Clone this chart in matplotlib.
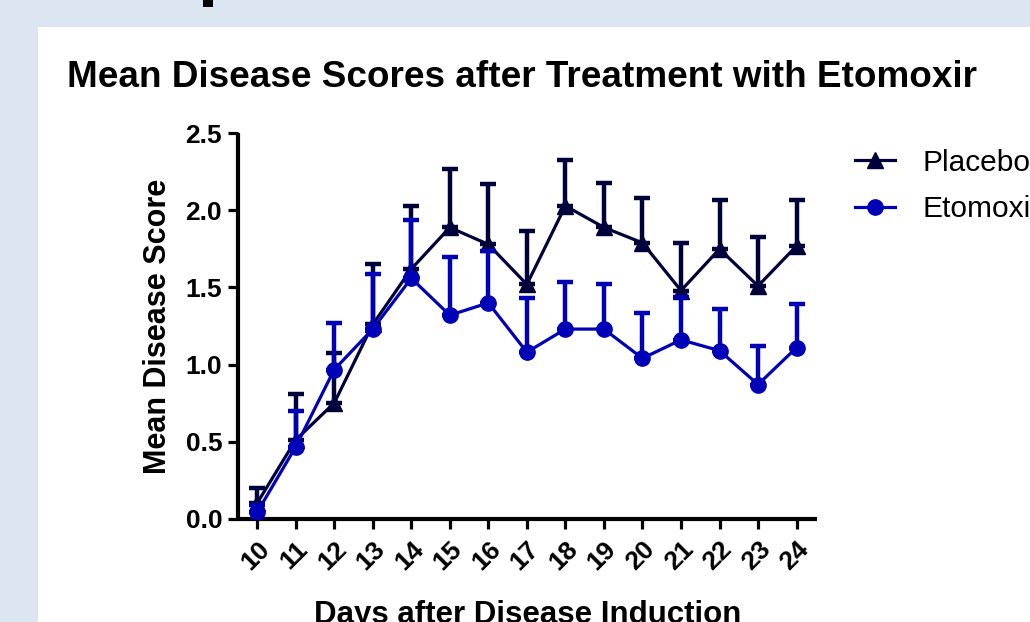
import matplotlib
matplotlib.use("Agg")
import matplotlib.pyplot as plt
from matplotlib.lines import Line2D
from matplotlib.patches import Rectangle
import numpy as np

days = np.arange(10, 25)
day_labels = [str(d) for d in days]

placebo_mean = [0.10, 0.51, 0.75, 1.26, 1.62, 1.89, 1.78, 1.52, 2.03, 1.89, 1.79, 1.48, 1.75, 1.51, 1.77]
placebo_sem = [0.095, 0.30, 0.325, 0.39, 0.41, 0.38, 0.39, 0.345, 0.30, 0.29, 0.29, 0.31, 0.32, 0.315, 0.30]

etomoxir_mean = [0.04, 0.465, 0.967, 1.23, 1.56, 1.32, 1.40, 1.08, 1.23, 1.23, 1.04, 1.16, 1.09, 0.87, 1.11]
etomoxir_sem = [0.045, 0.235, 0.30, 0.355, 0.38, 0.38, 0.335, 0.35, 0.306, 0.29, 0.295, 0.28, 0.27, 0.25, 0.28]

y_ticks = [0.0, 0.5, 1.0, 1.5, 2.0, 2.5]

dark = "#00003a"
blue = "#0000b8"

plt.rcParams["font.family"] = ["Liberation Sans", "DejaVu Sans"]

fig = plt.figure(figsize=(10.30, 6.22), dpi=100)
fig.patch.set_facecolor("#dce6f2")

# white slide panel + bit of the cut-off slide title
fig.patches.append(Rectangle((38 / 1030, 0), 1, 1 - 27 / 622, transform=fig.transFigure,
                             facecolor="white", edgecolor="none", zorder=-10))
fig.patches.append(Rectangle((203 / 1030, 1 - 7 / 622), 10 / 1030, 7 / 622, transform=fig.transFigure,
                             facecolor="black", edgecolor="none", zorder=-10))

ax = fig.add_axes([237.5 / 1030, (622 - 518.5) / 622, (817 - 237.5) / 1030, (518.5 - 133.5) / 622])
ax.set_facecolor("none")

# placebo
ax.errorbar(days, placebo_mean, yerr=[np.zeros(len(days)), placebo_sem], fmt="none",
            ecolor=dark, elinewidth=3.2, capsize=5.5, capthick=3.2, zorder=2)
ax.plot(days, placebo_mean, color=dark, lw=2.3, marker="^", ms=11.5, zorder=3)

# etomoxir
ax.errorbar(days, etomoxir_mean, yerr=[np.zeros(len(days)), etomoxir_sem], fmt="none",
            ecolor=blue, elinewidth=3.2, capsize=5.5, capthick=3.2, zorder=4)
ax.plot(days, etomoxir_mean, color=blue, lw=2.3, marker="o", ms=11, zorder=5)

ax.set_xlim(9.49, 24.53)
ax.set_ylim(0, 2.5)
ax.set_xticks(days)
ax.set_xticklabels(day_labels, rotation=45, ha="right", va="top", rotation_mode="anchor",
                   fontsize=19, fontweight="bold")
ax.set_yticks(y_ticks)
ax.set_yticklabels([f"{v:.1f}" for v in y_ticks], fontsize=19, fontweight="bold")

for side in ["top", "right"]:
    ax.spines[side].set_visible(False)
for side in ["left", "bottom"]:
    ax.spines[side].set_linewidth(3)
    ax.spines[side].set_capstyle("butt")
ax.tick_params(axis="both", direction="out", length=7.5, width=2.3, color="black")
ax.tick_params(axis="y", pad=3.5)
ax.tick_params(axis="x", pad=6)

ax.set_ylabel("Mean Disease Score", fontsize=22, fontweight="bold", labelpad=9)
ax.set_xlabel("Days after Disease Induction", fontsize=22.5, fontweight="bold", labelpad=18)

fig.text(67 / 1030, 1 - 87 / 622, "Mean Disease Scores after Treatment with Etomoxir",
         fontsize=26.6, fontweight="bold", ha="left", va="baseline")

handles = [Line2D([], [], color=dark, lw=2.3, marker="^", ms=11),
           Line2D([], [], color=blue, lw=2.3, marker="o", ms=11)]
fig.legend(handles, ["Placebo", "Etomoxir"], loc="center left",
           bbox_to_anchor=(855 / 1030, 1 - 186 / 622), frameon=False,
           fontsize=21.5, handlelength=1.35, handletextpad=0.9, labelspacing=0.62,
           borderpad=0, borderaxespad=0)

fig.savefig("out.png", dpi=100, facecolor=fig.get_facecolor())
